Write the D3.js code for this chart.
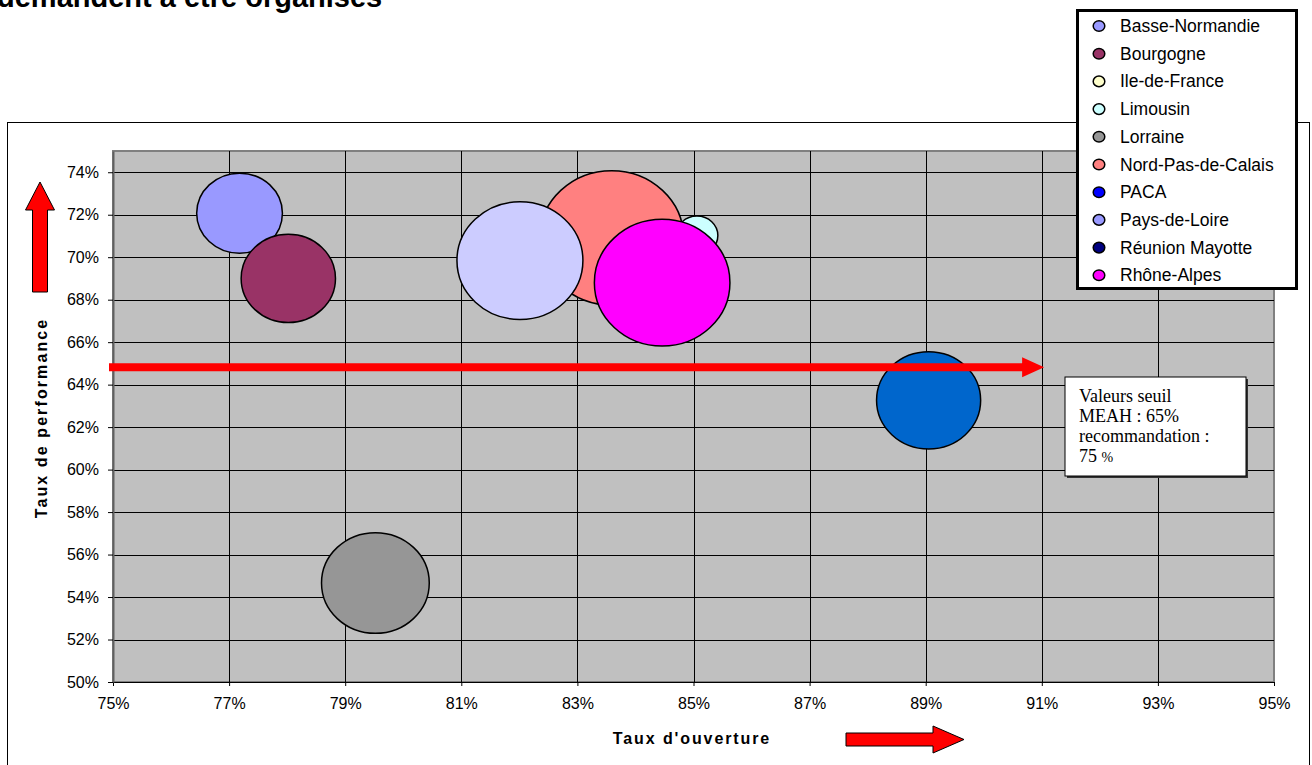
<!DOCTYPE html>
<html>
<head>
<meta charset="utf-8">
<script src="https://cdn.jsdelivr.net/npm/d3@7"></script>
<style>
  body { margin: 0; background: #fff; }
  svg { display: block; font-family: Arial, "Liberation Sans", sans-serif; }
</style>
</head>
<body>
<script>
// regions (series), in legend order
var regions = ['Basse-Normandie', 'Bourgogne', 'Ile-de-France', 'Limousin', 'Lorraine',
               'Nord-Pas-de-Calais', 'PACA', 'Pays-de-Loire', 'Réunion Mayotte', 'Rhône-Alpes'];
// taux d'ouverture (%), null = not shown on the chart
var ouverture = [77.18, 78.02, null, 85.06, 79.52, 83.59, 89.05, 82.01, null, 84.46];
// taux de performance (%)
var performance = [72.07, 69.0, null, 71.02, 54.66, 70.91, 63.26, 69.84, null, 68.8];
// bubble size
var sizes = [38, 46, null, 9, 60, 107, 56, 82, null, 95];
var bubbleColors = ['#9999FF', '#993366', '#FFFFCC', '#CCFFFF', '#969696',
                    '#FF8080', '#0066CC', '#CCCCFF', '#000080', '#FF00FF'];
var legendColors = ['#9999FF', '#993366', '#FFFFCC', '#CCFFFF', '#969696',
                    '#FF8080', '#0000FF', '#9999FF', '#000080', '#FF00FF'];
var xTicks = [75, 77, 79, 81, 83, 85, 87, 89, 91, 93, 95];
var yTicks = [50, 52, 54, 56, 58, 60, 62, 64, 66, 68, 70, 72, 74];
var seuil = 64.82;
var noteLines = ['Valeurs seuil', 'MEAH : 65%', 'recommandation :'];

var W = 1312, H = 765;
var svg = d3.select("body").append("svg")
    .attr("width", W)
    .attr("height", H);

// title, cut off at top like the source page
svg.append("text")
    .attr("x", -3).attr("y", 7)
    .attr("font-size", 29).attr("font-weight", "bold")
    .text("demandent à être organisés");

// chart frame
svg.append("rect")
    .attr("x", 7.5).attr("y", 122.5)
    .attr("width", 1302).attr("height", 660)
    .attr("fill", "#fff").attr("stroke", "#000");

// scales
var x = d3.scaleLinear().domain([75, 95]).range([113, 1274]);
var y = d3.scaleLinear().domain([50, 75]).range([682, 151]);
var r = d3.scaleSqrt().domain([0, 100]).range([0, 65]);
var stretch = 1.07; // bubbles are slightly wider than tall

// plot area
svg.append("rect")
    .attr("x", x(75)).attr("y", y(75))
    .attr("width", x(95) - x(75)).attr("height", y(50) - y(75))
    .attr("fill", "#C0C0C0").attr("stroke", "#808080").attr("stroke-width", 2);

// grid
svg.append("g").selectAll("line")
    .data(yTicks.slice(1))
    .enter().append("line")
    .attr("x1", x(75)).attr("x2", x(95))
    .attr("y1", function(d) { return Math.round(y(d)) + 0.5; })
    .attr("y2", function(d) { return Math.round(y(d)) + 0.5; })
    .attr("stroke", "#000");
svg.append("g").selectAll("line")
    .data(xTicks.slice(1, -1))
    .enter().append("line")
    .attr("y1", y(75)).attr("y2", y(50))
    .attr("x1", function(d) { return Math.round(x(d)) + 0.5; })
    .attr("x2", function(d) { return Math.round(x(d)) + 0.5; })
    .attr("stroke", "#000");

// axes
var xAxis = d3.axisBottom(x).tickValues(xTicks)
    .tickFormat(function(d) { return d + "%"; }).tickSizeInner(4).tickSizeOuter(0).tickPadding(12);
var yAxis = d3.axisLeft(y).tickValues(yTicks)
    .tickFormat(function(d) { return d + "%"; }).tickSizeInner(5).tickSizeOuter(0).tickPadding(9);

var gx = svg.append("g").attr("transform", "translate(0," + y(50) + ")").call(xAxis);
var gy = svg.append("g").attr("transform", "translate(" + x(75) + ",0)").call(yAxis);
gy.select(".domain").attr("stroke", "#606060").attr("stroke-width", 2);
[gx, gy].forEach(function(g) {
  g.selectAll("text").attr("font-size", 16).attr("font-family", "Arial, 'Liberation Sans', sans-serif").attr("fill", "#000");
});

// bubbles
var pts = regions.map(function(name, i) {
  return {name: name, x: ouverture[i], y: performance[i], s: sizes[i], c: bubbleColors[i]};
}).filter(function(d) { return d.x != null; });

svg.append("g").selectAll("ellipse")
    .data(pts)
    .enter().append("ellipse")
    .attr("cx", function(d) { return x(d.x); })
    .attr("cy", function(d) { return y(d.y); })
    .attr("rx", function(d) { return r(d.s) * stretch; })
    .attr("ry", function(d) { return r(d.s); })
    .attr("fill", function(d) { return d.c; })
    .attr("stroke", "#000").attr("stroke-width", 1.5);

// threshold arrow
var ay = y(seuil), ax0 = x(75) - 4, ax1 = x(91.04);
svg.append("path")
    .attr("d", "M" + ax0 + "," + (ay - 4) + "H" + (ax1 - 22) + "V" + (ay - 10) + "L" + ax1 + "," + ay +
               "L" + (ax1 - 22) + "," + (ay + 10) + "V" + (ay + 4) + "H" + ax0 + "Z")
    .attr("fill", "#FF0000");

// note box
var note = svg.append("g").attr("transform", "translate(1065,377)");
note.append("rect").attr("x", 2).attr("y", 2).attr("width", 181).attr("height", 99).attr("fill", "#333");
note.append("rect").attr("width", 181).attr("height", 99)
    .attr("fill", "#fff").attr("stroke", "#000").attr("stroke-width", 1);
note.selectAll("text.l")
    .data(noteLines)
    .enter().append("text")
    .attr("class", "l")
    .attr("x", 14)
    .attr("y", function(d, i) { return 25 + i * 20; })
    .attr("font-family", "'Liberation Serif', 'Times New Roman', serif")
    .attr("font-size", 18)
    .text(function(d) { return d; });
var last = note.append("text").attr("x", 14).attr("y", 85)
    .attr("font-family", "'Liberation Serif', 'Times New Roman', serif").attr("font-size", 18);
last.append("tspan").text("75 ");
last.append("tspan").attr("font-size", 14).text("%");

// axis titles
svg.append("text")
    .attr("x", 692).attr("y", 744)
    .attr("text-anchor", "middle")
    .attr("font-size", 16).attr("font-weight", "bold")
    .attr("letter-spacing", 1.9)
    .text("Taux d'ouverture");
svg.append("text")
    .attr("transform", "translate(47,418) rotate(-90)")
    .attr("text-anchor", "middle")
    .attr("font-size", 16).attr("font-weight", "bold")
    .attr("letter-spacing", 2.1)
    .text("Taux de performance");

// decorative arrows
svg.append("path")
    .attr("d", "M40,182 L54.5,210 L47.5,210 L47.5,292 L32.5,292 L32.5,210 L25.5,210 Z")
    .attr("fill", "#FF0000").attr("stroke", "#000").attr("stroke-width", 1);
svg.append("path")
    .attr("d", "M846,733 L933,733 L933,726 L964,739.5 L933,753 L933,746 L846,746 Z")
    .attr("fill", "#FF0000").attr("stroke", "#000").attr("stroke-width", 1);

// legend
var legend = svg.append("g");
legend.append("rect")
    .attr("x", 1077.5).attr("y", 10.5)
    .attr("width", 219).attr("height", 278)
    .attr("fill", "#fff").attr("stroke", "#000").attr("stroke-width", 3);
var items = legend.selectAll("g.item")
    .data(regions)
    .enter().append("g")
    .attr("class", "item")
    .attr("transform", function(d, i) { return "translate(0," + (26 + i * 27.7) + ")"; });
items.append("ellipse")
    .attr("cx", 1099).attr("cy", 0).attr("rx", 5.8).attr("ry", 5.3)
    .attr("fill", function(d, i) { return legendColors[i]; })
    .attr("stroke", "#000").attr("stroke-width", 1.5);
items.append("text")
    .attr("x", 1120).attr("y", 6)
    .attr("font-size", 17.5)
    .text(function(d) { return d; });
</script>
</body>
</html>
